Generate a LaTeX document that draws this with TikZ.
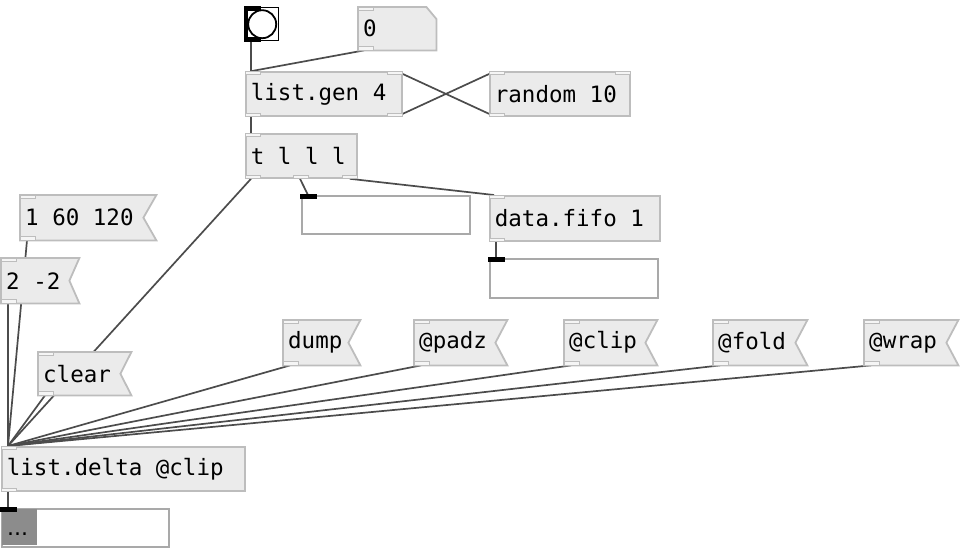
\documentclass[tikz,border=0pt]{standalone}
\usepackage{fontspec}
\newfontfamily\pdfontraw{DejaVu Sans Mono}
\newfontfamily\pddotfont{DejaVu Sans}
\newcommand\pdfont{\pdfontraw\fontsize{22.5pt}{24pt}\selectfont
  \fontdimen2\font=0.602em\fontdimen3\font=0pt\fontdimen4\font=0pt\relax}
\definecolor{boxfill}{HTML}{EBEBEB}
\definecolor{boxline}{HTML}{BDBDBD}
\definecolor{wirecol}{HTML}{4C4C4C}
\definecolor{displine}{HTML}{A9A9A9}
\definecolor{dispgray}{HTML}{8C8C8C}
\pgfdeclarelayer{wires}
\pgfdeclarelayer{boxes}
\pgfsetlayers{wires,boxes,main}
\tikzset{
  pdbase/.style={anchor=north west, inner xsep=5pt, inner ysep=0pt, align=left,
    font=\pdfont},
  pdobj/.style={pdbase, fill=boxfill, draw=boxline, line width=1.8pt},
  pdmsg/.style={pdbase},
  msgshape/.style={fill=boxfill, draw=boxline, line width=1.8pt, line join=miter},
  pddisp/.style={anchor=north west, inner sep=0pt, fill=white, draw=displine, line width=1.8pt},
  iolet/.style={draw=boxline, fill=boxfill!50!white, line width=1pt},
  blackbar/.style={fill=black, draw=none},
  wire/.style={draw=wirecol, line width=1.7pt},
}
% style, name, x0, y0, x1, y1, text
\newcommand\pdbox[7]{%
  \pgfmathsetmacro\pdbh{#6-#4}%
  \pgfmathsetmacro\pdtw{#5-#3-10}%
  \node[#1, text width=\pdtw pt, minimum height=\pdbh pt] (#2) at (#3,#4)
    {\spaceskip=0pt\xspaceskip=0pt #7};}
% message flag outline
\newcommand\pdflag[2]{%
  \begin{pgfonlayer}{boxes}
  \path[msgshape] (#1.north west) -- (#1.north east) -- ([xshift=-#2pt]#1.east)
     -- (#1.south east) -- (#1.south west) -- cycle;
  \end{pgfonlayer}}
\newcommand\inTL[1]{\draw[iolet] (#1.north west) rectangle ++(15,3.5);}
\newcommand\inTR[1]{\draw[iolet] (#1.north east) rectangle ++(-15,3.5);}
\newcommand\outBL[1]{\draw[iolet] (#1.south west) rectangle ++(15,-3.5);}
\newcommand\outBR[1]{\draw[iolet] (#1.south east) rectangle ++(-15,-3.5);}
\newcommand\dispIn[1]{\fill[blackbar] (#1.north west) ++(-0.9,-0.9) rectangle ++(16.5,5);}
\begin{document}
\begin{tikzpicture}[x=1pt,y=-1pt]
\useasboundingbox (0,0) rectangle (960,552);

% ---- bang ----
\node[anchor=north west, inner sep=0pt, minimum size=33pt, fill=white, draw=black, line width=1.4pt] (bng) at (245,7) {};
\draw[black, line width=1.8pt] (bng.center) circle (14);
\fill[black] (bng.north west) ++(-0.7,-0.7) rectangle ++(17,5);
\fill[black] (bng.south west) ++(-0.7,0.7) rectangle ++(17,-5);
\fill[black] (bng.north west) ++(-0.7,-0.7) rectangle ++(3.5,34.4);

% ---- number box ----
\node[pdbase, text width=68pt, minimum height=43pt] (num0) at (358,7) {0};
\begin{pgfonlayer}{boxes}
\path[msgshape] (num0.north west) -- ([xshift=-10pt]num0.north east) -- ([yshift=-12pt]num0.north east)
   -- (num0.south east) -- (num0.south west) -- cycle;
\end{pgfonlayer}
\inTL{num0}\outBL{num0}

% ---- objects ----
\pdbox{pdobj}{listgen}{245}{71}{401}{115}{list.gen 4}
\pdbox{pdobj}{random}{489}{71}{629}{115}{random 10}
\pdbox{pdobj}{trig}{245}{133}{356}{177}{t l l l}
\pdbox{pdobj}{fifo}{489}{195}{659}{240}{data.fifo 1}
\pdbox{pdobj}{ld}{1}{446}{244}{490}{list.delta @clip}
\inTL{listgen}\inTR{listgen}\outBL{listgen}\outBR{listgen}
\inTL{random}\inTR{random}\outBL{random}
\inTL{trig}\outBL{trig}\outBR{trig}
\draw[iolet] (trig.south west) ++(48,0) rectangle ++(15,-3.5);
\inTL{fifo}\outBL{fifo}
\inTL{ld}\outBL{ld}

% ---- messages ----
\pdbox{pdmsg}{m1}{20}{195}{156}{240}{1 60 120}
\pdbox{pdmsg}{m2}{1}{258}{79}{303}{2 -2}
\pdbox{pdmsg}{mclear}{38}{352}{131}{395}{clear}
\pdbox{pdmsg}{mdump}{283}{320}{360}{365}{dump}
\pdbox{pdmsg}{mpadz}{414}{320}{507}{365}{@padz}
\pdbox{pdmsg}{mclip}{564}{320}{657}{365}{@clip}
\pdbox{pdmsg}{mfold}{713}{320}{807}{365}{@fold}
\pdbox{pdmsg}{mwrap}{864}{320}{958}{365}{@wrap}
\foreach \m/\f in {m1/13,m2/10,mclear/11,mdump/12,mpadz/12,mclip/12,mfold/12,mwrap/12}{
  \pdflag{\m}{\f}
  \inTL{\m}\outBL{\m}
}

% ---- displays ----
\node[pddisp, minimum width=168pt, minimum height=38pt] (d1) at (301,195) {};
\node[pddisp, minimum width=168pt, minimum height=39pt] (d2) at (489,258) {};
\node[pddisp, minimum width=167pt, minimum height=38pt] (d3) at (1,508) {};
\fill[dispgray] (d3.north west) ++(0.9,0.9) rectangle ++(35.5,36.2);
\node[anchor=base west, inner sep=0pt, font=\pddotfont\fontsize{22pt}{24pt}\selectfont] (dots) at (7,535) {...};
\dispIn{d1}\dispIn{d2}\dispIn{d3}

% ---- wires ----
\begin{pgfonlayer}{wires}
\draw[wire] ([xshift=6pt]bng.south west) -- ([xshift=6pt]listgen.north west);
\draw[wire] ([xshift=6pt]num0.south west) -- ([xshift=7pt]listgen.north west);
\draw[wire] ([yshift=-3pt]listgen.north east) -- ([yshift=3pt]random.south west);
\draw[wire] ([yshift=3pt]listgen.south east) -- ([yshift=-3pt]random.north west);
\draw[wire] ([xshift=6pt]listgen.south west) -- ([xshift=6pt]trig.north west);
\draw[wire] ([xshift=6pt]trig.south west) -- ([xshift=7pt]ld.north west);
\draw[wire] ([xshift=55pt]trig.south west) -- ([xshift=7pt]d1.north west);
\draw[wire] ([xshift=-8pt]trig.south east) -- ([xshift=5pt]fifo.north west);
\draw[wire] ([xshift=7pt]fifo.south west) -- ([xshift=7pt]d2.north west);
\foreach \m in {m1,m2,mclear,mdump,mpadz,mclip,mfold,mwrap}
  \draw[wire] ([xshift=7pt]\m.south west) -- ([xshift=7pt]ld.north west);
\draw[wire] ([xshift=7pt]ld.south west) -- ([xshift=7pt]d3.north west);
\end{pgfonlayer}
\end{tikzpicture}
\end{document}
